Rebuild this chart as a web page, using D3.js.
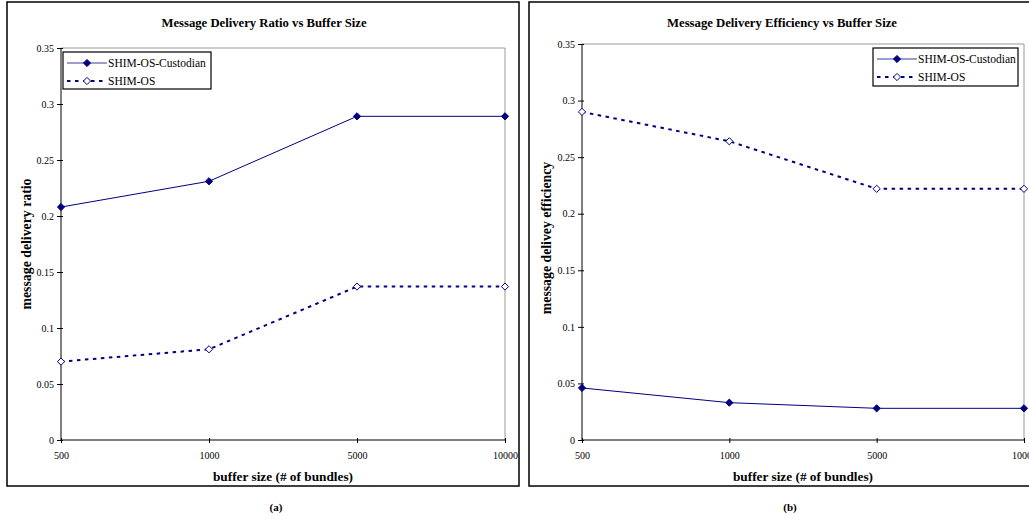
<!DOCTYPE html>
<html>
<head>
<meta charset="utf-8">
<script src="https://cdn.jsdelivr.net/npm/d3@7"></script>
<style>
  body { margin: 0; background: #fff; }
  svg text { font-family: "Liberation Serif", "DejaVu Serif", serif; }
</style>
</head>
<body>
<svg id="chart" width="1029" height="519"></svg>
<script>
// categories on the x axis
var bufferSizes = ['500', '1000', '5000', '10000'];
var yTicks = [0, 0.05, 0.1, 0.15, 0.2, 0.25, 0.3, 0.35];
var seriesNames = ['SHIM-OS-Custodian', 'SHIM-OS'];

// (a) delivery ratio
var ratioCustodian = [0.208, 0.231, 0.289, 0.289];
var ratioShim = [0.070, 0.081, 0.137, 0.137];

// (b) delivery efficiency
var effCustodian = [0.046, 0.033, 0.028, 0.028];
var effShim = [0.290, 0.264, 0.222, 0.222];

var navy = '#000080';
var serif = '"Liberation Serif", "DejaVu Serif", serif';
var svg = d3.select('#chart');

var panels = [
  {
    frame: [7, 2, 512, 484],
    plot: { left: 61, right: 505, top: 48, bottom: 440 },
    title: 'Message Delivery Ratio vs Buffer Size',
    titleX: 264,
    yLabel: 'message delivery ratio',
    yLabelX: 27,
    yLabelY: 244,
    xLabelX: 283,
    caption: '(a)', captionX: 276,
    series: [ratioCustodian, ratioShim],
    legend: { x: 63, y: 52, w: 148, h: 37 }
  },
  {
    frame: [529, 2, 520, 484],
    plot: { left: 582, right: 1024, top: 44, bottom: 440 },
    title: 'Message Delivery Efficiency vs Buffer Size',
    titleX: 782,
    yLabel: 'message delivey efficiency',
    yLabelX: 547,
    yLabelY: 238,
    xLabelX: 803,
    caption: '(b)', captionX: 790,
    series: [effCustodian, effShim],
    legend: { x: 873, y: 48, w: 145, h: 38 }
  }
];

function diamond(g, x, y, filled) {
  var r = 3.6;
  g.append('path')
    .attr('d', 'M' + x + ',' + (y - r) + 'L' + (x + r) + ',' + y + 'L' + x + ',' + (y + r) + 'L' + (x - r) + ',' + y + 'Z')
    .attr('fill', filled ? navy : '#fff')
    .attr('stroke', navy)
    .attr('stroke-width', 1);
}

panels.forEach(function (p) {
  var g = svg.append('g');
  var pl = p.plot;

  g.append('rect')
    .attr('x', p.frame[0]).attr('y', p.frame[1])
    .attr('width', p.frame[2]).attr('height', p.frame[3])
    .attr('fill', 'none').attr('stroke', '#000').attr('stroke-width', 1.5);

  var x = d3.scalePoint().domain(bufferSizes).range([pl.left, pl.right]);
  var y = d3.scaleLinear().domain([0, 0.35]).range([pl.bottom, pl.top]);

  // plot area border (grey top/right)
  g.append('path')
    .attr('d', 'M' + pl.left + ',' + pl.top + 'H' + pl.right + 'V' + pl.bottom)
    .attr('fill', 'none').attr('stroke', '#999').attr('stroke-width', 1);

  var yAxis = g.append('g')
    .attr('transform', 'translate(' + pl.left + ',0)')
    .call(d3.axisLeft(y).tickValues(yTicks).tickSize(4).tickPadding(3)
      .tickFormat(function (d) { return d === 0 ? '0' : String(+d.toFixed(2)); }));
  yAxis.selectAll('.tick line').attr('x2', -4).attr('x1', 2);
  yAxis.selectAll('text').attr('font-size', 10).attr('fill', '#000')
    .attr('font-family', serif);
  yAxis.select('.domain').attr('d', 'M0,' + pl.top + 'V' + pl.bottom);

  var xAxis = g.append('g')
    .attr('transform', 'translate(0,' + pl.bottom + ')')
    .call(d3.axisBottom(x).tickSize(3).tickPadding(9));
  xAxis.selectAll('.tick line').attr('y1', -2).attr('y2', 3);
  xAxis.selectAll('text').attr('font-size', 10).attr('fill', '#000')
    .attr('font-family', serif);
  xAxis.select('.domain').attr('d', 'M' + pl.left + ',0H' + pl.right);

  var line = d3.line()
    .x(function (d, i) { return x(bufferSizes[i]); })
    .y(function (d) { return y(d); });

  // custodian (solid, filled markers)
  g.append('path').datum(p.series[0])
    .attr('d', line).attr('fill', 'none').attr('stroke', navy).attr('stroke-width', 1);
  // shim-os (dashed, open markers)
  g.append('path').datum(p.series[1])
    .attr('d', line).attr('fill', 'none').attr('stroke', navy).attr('stroke-width', 2)
    .attr('stroke-dasharray', '3.5,4.5');

  p.series[0].forEach(function (v, i) { diamond(g, x(bufferSizes[i]), y(v), true); });
  p.series[1].forEach(function (v, i) { diamond(g, x(bufferSizes[i]), y(v), false); });

  // titles
  g.append('text').attr('x', p.titleX).attr('y', 27)
    .attr('font-family', serif)
    .attr('text-anchor', 'middle').attr('font-size', 12.7).attr('font-weight', 'bold')
    .text(p.title);
  g.append('text').attr('x', p.xLabelX).attr('y', 481)
    .attr('font-family', serif)
    .attr('text-anchor', 'middle').attr('font-size', 13.3).attr('font-weight', 'bold')
    .text('buffer size (# of bundles)');
  g.append('text')
    .attr('font-family', serif)
    .attr('transform', 'translate(' + (p.yLabelX + 4) + ',' + p.yLabelY + ') rotate(-90)')
    .attr('text-anchor', 'middle').attr('font-size', 13.8).attr('font-weight', 'bold')
    .text(p.yLabel);
  g.append('text').attr('x', p.captionX).attr('y', 511)
    .attr('font-family', serif)
    .attr('text-anchor', 'middle').attr('font-size', 11).attr('font-weight', 'bold')
    .text(p.caption);

  // legend
  var L = p.legend;
  var lg = g.append('g').attr('transform', 'translate(' + L.x + ',' + L.y + ')');
  lg.append('rect').attr('width', L.w).attr('height', L.h)
    .attr('fill', '#fff').attr('stroke', '#000').attr('stroke-width', 1.2);
  seriesNames.forEach(function (name, i) {
    var ry = 11 + i * 18;
    lg.append('line').attr('x1', 4).attr('x2', 44).attr('y1', ry).attr('y2', ry)
      .attr('stroke', i === 0 ? '#3c3c9c' : navy)
      .attr('stroke-width', i === 0 ? 1.2 : 2)
      .attr('stroke-dasharray', i === 0 ? null : '3.5,4.5');
    diamond(lg, 24, ry, i === 0);
    lg.append('text').attr('x', 45).attr('y', ry + 4)
      .attr('font-family', serif)
      .attr('font-size', 11.5).text(name);
  });
});
</script>
</body>
</html>
